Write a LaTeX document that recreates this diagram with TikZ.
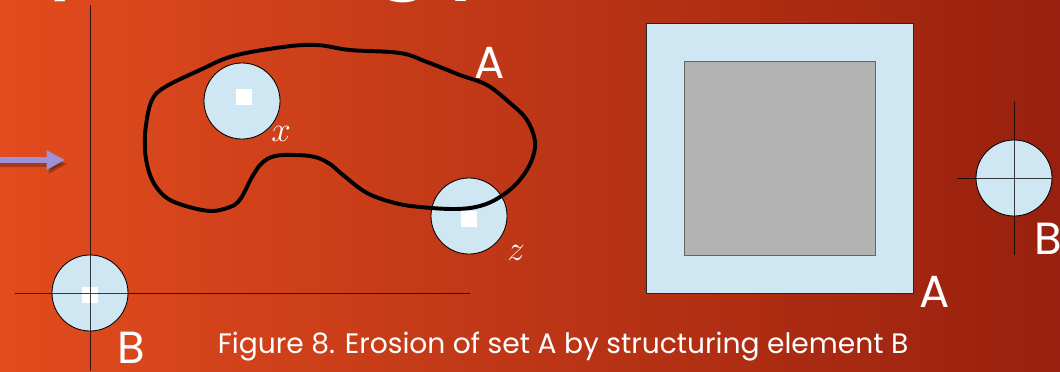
\documentclass[tikz,border=0pt]{standalone}
\usepackage{fontspec}
\setmainfont{Poppins}
\usetikzlibrary{arrows.meta,positioning}
\definecolor{bgleft}{RGB}{226,76,30}
\definecolor{bgright}{RGB}{152,32,14}
\definecolor{paleblue}{RGB}{207,230,243}
\definecolor{arrowpurple}{RGB}{160,144,216}

\begin{document}
\begin{tikzpicture}[x=0.025cm, y=-0.025cm,
    disk/.style={circle, draw=black, line width=0.6pt, fill=paleblue, minimum size=1.9cm, inner sep=0pt},
    dot/.style={fill=white, minimum size=0.39cm, inner sep=0pt},
    axis/.style={draw=black, opacity=0.75, line width=0.7pt},
    lbl/.style={text=white, font=\fontsize{32}{32}\selectfont, inner sep=0pt},
    var/.style={text=white, font=\fontsize{33}{33}\selectfont, inner sep=0pt},
    arr/.style={-{Triangle[length=13pt, width=13pt]}, line width=4.3pt, arrowpurple}
]
\useasboundingbox (0,0) rectangle (1060,371);
\shade[left color=bgleft, right color=bgright] (0,0) rectangle (1060,371);
\begin{scope}
\clip (0,0) rectangle (1060,371);
\node[anchor=base west, text=white, font=\fontsize{80}{80}\selectfont, inner sep=0pt] (title) at (-165,-28) {Morphology};
\end{scope}

\coordinate (arrowtail) at (-5,160);
\coordinate (arrowtip) at (65,160);
\draw[arr, black, opacity=0.25] ([shift={(2,4)}]arrowtail) -- ([shift={(2,4)}]arrowtip);
\draw[arr] (arrowtail) -- (arrowtip);

\node[disk] (bdisk) at (90,293) {};
\node[dot] (bdot) at (90,295) {};
\coordinate (vtop) at (90,5);
\coordinate (vbot) at (90,371);
\coordinate (hleft) at (15,293);
\coordinate (hright) at (470,293);
\draw[axis] (vtop) -- (vbot);
\draw[axis] (hleft) -- (hright);
\node[lbl] (blabel) at (131,348) {B};

\node[disk] (xdisk) at (242,101) {};
\node[disk] (zdisk) at (469,216) {};
\draw[line width=2.8pt] plot[smooth cycle, tension=0.6] coordinates {
  (146,125) (152,100) (165,87) (200,70) (233,56) (283,47) (317,45) (350,50)
  (400,53) (427,62) (460,75) (487,85) (510,103) (527,120) (535,142) (531,162)
  (518,182) (500,197) (480,206) (455,209) (420,207) (395,203) (367,193) (343,175)
  (330,164) (315,157) (295,155) (275,156) (262,163) (252,177) (244,193) (238,202)
  (230,207) (213,211) (193,208) (170,200) (157,188) (149,172) (145,150)};
\node[dot] (xdot) at (244,97) {};
\node[dot] (zdot) at (469,219) {};
\node[var] (xlabel) at (281,134) {$x$};
\node[var] (zlabel) at (516,253) {$z$};
\node[lbl] (alabel) at (490,63) {A};

\node[draw=black!85, fill=paleblue, line width=0.7pt, minimum width=6.65cm, minimum height=6.725cm, inner sep=0pt] (outer) at (780,158.5) {};
\node[draw=black!60, fill=black!30, line width=0.7pt, minimum width=4.75cm, minimum height=4.825cm, inner sep=0pt] (inner) at (780,158.5) {};
\node[lbl] (a2label) at (935,292) {A};

\node[disk] (b2disk) at (1014,178) {};
\coordinate (v2top) at (1014,102);
\coordinate (v2bot) at (1014,255);
\coordinate (h2left) at (957,178);
\coordinate (h2right) at (1052,178);
\draw[axis] (v2top) -- (v2bot);
\draw[axis] (h2left) -- (h2right);
\node[lbl, anchor=west] (b2label) at (1034,239) {B};

\node[text=white, font=\fontsize{20}{20}\selectfont, anchor=base, inner sep=0pt] (caption) at (563,353) {Figure 8. Erosion of set A by structuring element B};
\end{tikzpicture}
\end{document}
